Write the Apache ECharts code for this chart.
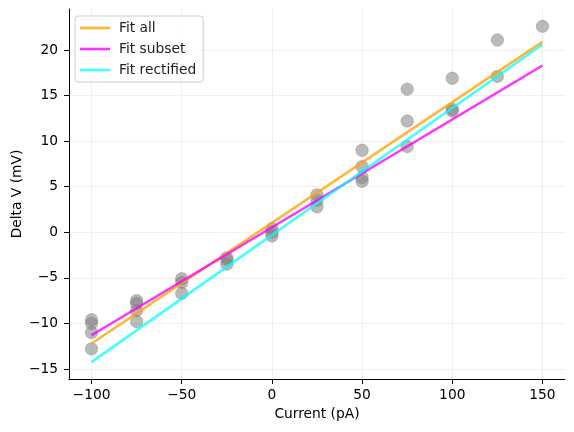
<!DOCTYPE html>
<html>
<head>
<meta charset="utf-8">
<script src="https://cdn.jsdelivr.net/npm/echarts@6/dist/echarts.min.js"></script>
<style>
html,body{margin:0;padding:0;background:#fff;}
#chart{width:574px;height:432px;}
</style>
</head>
<body>
<div id="chart"></div>
<script>
// Measured points: current (pA) and delta V (mV)
var currentPA = [-100,-100,-100,-100, -75,-75,-75,-75, -50,-50,-50, -25,-25,-25, 0,0,0, 25,25,25, 50,50,50,50, 75,75,75, 100,100,100, 125,125, 150];
var deltaVmV  = [-9.6,-10.0,-11.0,-12.8, -7.5,-7.8,-8.6,-9.8, -5.1,-5.5,-6.7, -2.8,-3.0,-3.5, 0.4,0.0,-0.4, 4.1,3.5,2.8, 9.0,7.2,6.0,5.6, 15.7,12.2,9.4, 16.9,13.5,13.3, 21.1,17.1, 22.6];

// Fit lines (endpoints at x = -100 and x = 150)
var fitX = [-100, 150];
var fitAllY = [-12.2, 20.9];
var fitSubsetY = [-11.3, 18.3];
var fitRectifiedY = [-14.25, 20.6];

var xTicks = [-100, -50, 0, 50, 100, 150];
var yTicks = [-15, -10, -5, 0, 5, 10, 15, 20];

function zip(a, b) { return a.map(function (v, i) { return [v, b[i]]; }); }
function fmt(v) { return String(v).replace('-', '\u2212'); }

var font = 'DejaVu Sans';
var fs = 13.8;
var lineIcon = 'path://M0,0 L30,0 L30,2.6 L0,2.6 Z';
var chart = echarts.init(document.getElementById('chart'));
chart.setOption({
  animation: false,
  backgroundColor: '#ffffff',
  textStyle: { fontFamily: font },
  grid: { left: 69, right: 9, top: 9, bottom: 53, containLabel: false, outerBoundsMode: 'none' },
  legend: {
    data: [
      { name: 'Fit all', icon: lineIcon },
      { name: 'Fit subset', icon: lineIcon },
      { name: 'Fit rectified', icon: lineIcon }
    ],
    orient: 'vertical',
    left: 75, top: 16,
    padding: [5, 7, 5, 5],
    itemWidth: 30, itemHeight: 14, itemGap: 7,
    backgroundColor: 'rgba(255,255,255,0.8)',
    borderColor: '#cccccc', borderWidth: 1, borderRadius: 3,
    textStyle: { fontFamily: font, fontSize: fs, color: '#222', padding: [0, 0, 0, 4] }
  },
  xAxis: {
    type: 'value', min: -112.5, max: 162.5,
    name: 'Current (pA)', nameLocation: 'middle', nameGap: 28, nameMoveOverlap: false,
    nameTextStyle: { fontFamily: font, fontSize: fs, color: '#000' },
    axisLine: { show: true, onZero: false, lineStyle: { color: '#000', width: 1 } },
    axisTick: { show: true, length: 5, lineStyle: { color: '#000' }, customValues: xTicks },
    axisLabel: { margin: 9, fontFamily: font, fontSize: fs, color: '#000', customValues: xTicks, formatter: fmt },
    splitLine: { show: true, lineStyle: { color: '#ebebeb', width: 0.8 } }
  },
  yAxis: {
    type: 'value', min: -16.1, max: 24.5,
    name: 'Delta V (mV)', nameLocation: 'middle', nameGap: 45, nameRotate: 90, nameMoveOverlap: false,
    nameTextStyle: { fontFamily: font, fontSize: fs, color: '#000' },
    axisLine: { show: true, onZero: false, lineStyle: { color: '#000', width: 1 } },
    axisTick: { show: true, length: 5, lineStyle: { color: '#000' }, customValues: yTicks },
    axisLabel: { margin: 11, fontFamily: font, fontSize: fs, color: '#000', customValues: yTicks, formatter: fmt },
    splitLine: { show: true, lineStyle: { color: '#ebebeb', width: 0.8 } }
  },
  series: [
    {
      name: 'Data', type: 'scatter', data: zip(currentPA, deltaVmV),
      symbolSize: 12.5, z: 2,
      itemStyle: { color: 'rgba(128,128,128,0.68)', borderColor: 'rgba(110,110,110,0.5)', borderWidth: 0.8 }
    },
    {
      name: 'Fit all', type: 'line', data: zip(fitX, fitAllY), symbol: 'none', z: 3,
      lineStyle: { color: 'rgba(255,165,0,0.8)', width: 2.6 }, itemStyle: { color: 'rgba(255,165,0,0.8)' }
    },
    {
      name: 'Fit subset', type: 'line', data: zip(fitX, fitSubsetY), symbol: 'none', z: 3,
      lineStyle: { color: 'rgba(255,0,255,0.8)', width: 2.6 }, itemStyle: { color: 'rgba(255,0,255,0.8)' }
    },
    {
      name: 'Fit rectified', type: 'line', data: zip(fitX, fitRectifiedY), symbol: 'none', z: 3,
      lineStyle: { color: 'rgba(0,255,255,0.75)', width: 2.6 }, itemStyle: { color: 'rgba(0,255,255,0.75)' }
    }
  ]
});
</script>
</body>
</html>
